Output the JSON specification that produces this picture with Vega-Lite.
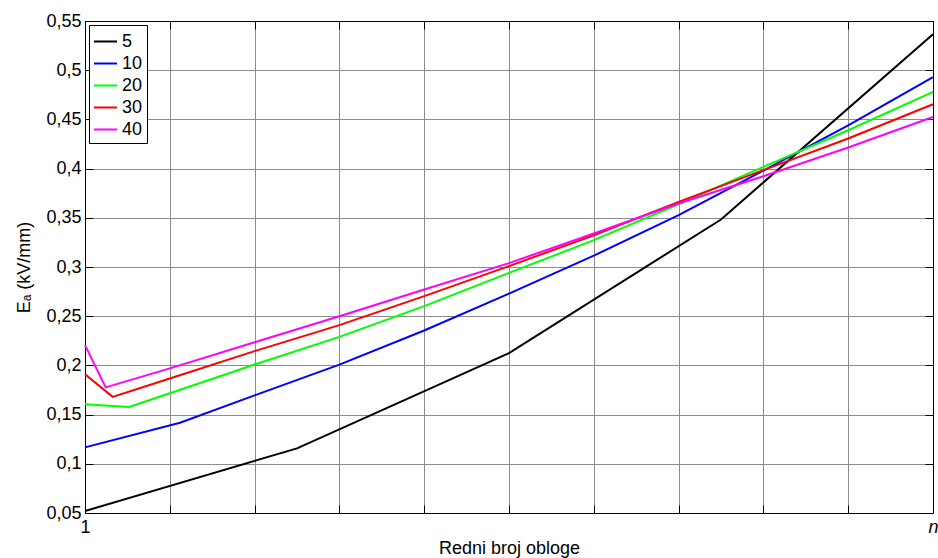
{
  "$schema": "https://vega.github.io/schema/vega-lite/v6.json",
  "width": 848,
  "height": 492,
  "autosize": {"type": "none"},
  "padding": {"left": 85, "top": 21, "right": 5, "bottom": 45},
  "background": "white",
  "config": {
    "view": {"stroke": "black", "strokeWidth": 1},
    "font": "Liberation Sans",
    "axis": {
      "domainColor": "black",
      "tickColor": "black",
      "labelColor": "black",
      "titleColor": "black",
      "labelFont": "Liberation Sans",
      "titleFont": "Liberation Sans",
      "labelFontSize": 18,
      "titleFontSize": 18,
      "titleFontWeight": "normal",
      "gridColor": "#8c8c8c",
      "gridOpacity": 1,
      "gridWidth": 1,
      "tickSize": -8
    },
    "legend": {
      "labelFont": "Liberation Sans",
      "labelFontSize": 18,
      "labelColor": "black"
    }
  },
  "data": {
    "values": [
      {"x": 0, "v": 0.052, "s": "5"},
      {"x": 2.5, "v": 0.1157, "s": "5"},
      {"x": 5, "v": 0.2125, "s": "5"},
      {"x": 7.5, "v": 0.3483, "s": "5"},
      {"x": 10, "v": 0.5365, "s": "5"},
      {"x": 0, "v": 0.1167, "s": "10"},
      {"x": 1.12, "v": 0.1417, "s": "10"},
      {"x": 2, "v": 0.1695, "s": "10"},
      {"x": 3, "v": 0.2008, "s": "10"},
      {"x": 4, "v": 0.2355, "s": "10"},
      {"x": 5, "v": 0.273, "s": "10"},
      {"x": 6, "v": 0.3115, "s": "10"},
      {"x": 7, "v": 0.3527, "s": "10"},
      {"x": 8, "v": 0.398, "s": "10"},
      {"x": 9, "v": 0.444, "s": "10"},
      {"x": 10, "v": 0.493, "s": "10"},
      {"x": 0, "v": 0.1604, "s": "20"},
      {"x": 0.52, "v": 0.1577, "s": "20"},
      {"x": 1, "v": 0.1717, "s": "20"},
      {"x": 2, "v": 0.2009, "s": "20"},
      {"x": 3, "v": 0.229, "s": "20"},
      {"x": 4, "v": 0.2602, "s": "20"},
      {"x": 5, "v": 0.294, "s": "20"},
      {"x": 6, "v": 0.3273, "s": "20"},
      {"x": 7, "v": 0.3638, "s": "20"},
      {"x": 8, "v": 0.4017, "s": "20"},
      {"x": 9, "v": 0.439, "s": "20"},
      {"x": 10, "v": 0.4779, "s": "20"},
      {"x": 0, "v": 0.191, "s": "30"},
      {"x": 0.326, "v": 0.168, "s": "30"},
      {"x": 1, "v": 0.1867, "s": "30"},
      {"x": 2, "v": 0.2145, "s": "30"},
      {"x": 3, "v": 0.2409, "s": "30"},
      {"x": 4, "v": 0.2704, "s": "30"},
      {"x": 5, "v": 0.3009, "s": "30"},
      {"x": 6, "v": 0.3323, "s": "30"},
      {"x": 7, "v": 0.3662, "s": "30"},
      {"x": 8, "v": 0.3984, "s": "30"},
      {"x": 9, "v": 0.4306, "s": "30"},
      {"x": 10, "v": 0.4654, "s": "30"},
      {"x": 0, "v": 0.2206, "s": "40"},
      {"x": 0.244, "v": 0.1777, "s": "40"},
      {"x": 1, "v": 0.197, "s": "40"},
      {"x": 2, "v": 0.2235, "s": "40"},
      {"x": 3, "v": 0.25, "s": "40"},
      {"x": 4, "v": 0.2772, "s": "40"},
      {"x": 5, "v": 0.3039, "s": "40"},
      {"x": 6, "v": 0.3341, "s": "40"},
      {"x": 7, "v": 0.3645, "s": "40"},
      {"x": 8, "v": 0.3923, "s": "40"},
      {"x": 9, "v": 0.4214, "s": "40"},
      {"x": 10, "v": 0.4525, "s": "40"}
    ]
  },
  "resolve": {"axis": {"x": "independent", "y": "independent"}},
  "layer": [
    {
      "mark": {"type": "line", "strokeWidth": 2},
      "encoding": {
        "x": {
          "field": "x",
          "type": "quantitative",
          "scale": {"domain": [0, 10], "nice": false, "zero": false},
          "axis": {
            "orient": "bottom",
            "values": [0, 1, 2, 3, 4, 5, 6, 7, 8, 9, 10],
            "labelExpr": "datum.value == 0 ? '1' : (datum.value == 10 ? 'n' : '')",
            "labelFontStyle": {"condition": {"test": "datum.value == 10", "value": "italic"}, "value": "normal"},
            "labelPadding": 13,
            "labelFlush": false,
            "labelOverlap": false,
            "title": "Redni broj obloge",
            "titlePadding": 3,
            "grid": true
          }
        },
        "y": {
          "field": "v",
          "type": "quantitative",
          "scale": {"domain": [0.05, 0.55], "nice": false, "zero": false},
          "axis": {
            "orient": "left",
            "values": [0.05, 0.1, 0.15, 0.2, 0.25, 0.3, 0.35, 0.4, 0.45, 0.5, 0.55],
            "labelExpr": "replace(format(datum.value, '.2~f'), '.', ',')",
            "labelPadding": 12,
            "labelFlush": false,
            "labelOverlap": false,
            "title": "Eₐ (kV/mm)",
            "titlePadding": 12,
            "grid": true
          }
        },
        "color": {
          "field": "s",
          "type": "nominal",
          "sort": ["5", "10", "20", "30", "40"],
          "scale": {
            "domain": ["5", "10", "20", "30", "40"],
            "range": ["#000000", "#0000ff", "#00ff00", "#ff0000", "#ff00ff"]
          },
          "legend": {
            "title": null,
            "orient": "top-left",
            "offset": 4,
            "symbolType": "stroke",
            "symbolSize": 529,
            "symbolStrokeWidth": 2,
            "rowPadding": 0,
            "labelOffset": 4,
            "padding": 4,
            "strokeColor": "black",
            "fillColor": "white",
            "cornerRadius": 0
          }
        }
      }
    },
    {
      "mark": {"type": "point", "opacity": 0},
      "encoding": {
        "x": {
          "field": "x",
          "type": "quantitative",
          "axis": {
            "orient": "top",
            "values": [0, 1, 2, 3, 4, 5, 6, 7, 8, 9, 10],
            "labels": false,
            "title": null,
            "grid": false
          }
        },
        "y": {
          "field": "v",
          "type": "quantitative",
          "axis": {
            "orient": "right",
            "values": [0.05, 0.1, 0.15, 0.2, 0.25, 0.3, 0.35, 0.4, 0.45, 0.5, 0.55],
            "labels": false,
            "title": null,
            "grid": false
          }
        }
      }
    }
  ]
}
